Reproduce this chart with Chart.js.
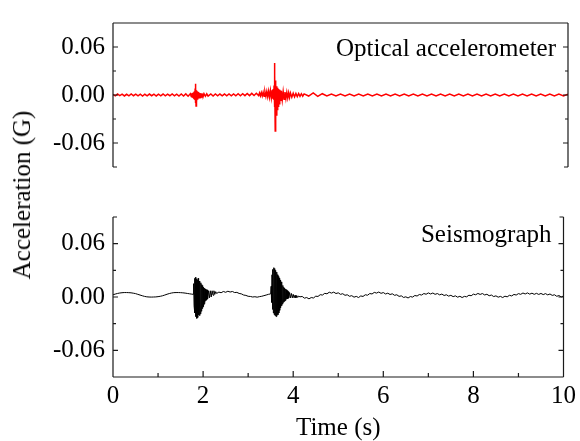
<!DOCTYPE html>
<html>
<head>
<meta charset="utf-8">
<script src="https://cdn.jsdelivr.net/npm/chart.js@4"></script>
<style>
  body { margin: 0; background: #fff; }
  #wrap { position: relative; width: 580px; height: 441px; }
  canvas { position: absolute; left: 0; }
  #ylabel {
    position: absolute; left: 22px; top: 195px;
    transform: translate(-50%, -50%) rotate(-90deg);
    font: 25px "Liberation Serif", serif; white-space: nowrap; color: #000;
  }
</style>
</head>
<body>
<div id="wrap">
  <canvas id="topChart" width="580" height="190" style="top:0"></canvas>
  <canvas id="bottomChart" width="580" height="251" style="top:190px"></canvas>
  <div id="ylabel">Acceleration (G)</div>
</div>
<script>
// tick positions
const xMajorTicks = [0, 2, 4, 6, 8, 10];
const xMinorTicks = [1, 3, 5, 7, 9];
const yMajorTicks = [-0.06, 0, 0.06];
const yMinorTicks = [-0.03, 0.03];

// optical accelerometer trace (s, G)
const opticalTime = [
  0,0.05,0.1,0.15,0.2,0.25,0.3,0.35,0.4,0.45,
  0.5,0.55,0.6,0.65,0.7,0.75,0.8,0.85,0.9,0.95,
  1,1.05,1.1,1.15,1.2,1.25,1.3,1.35,1.4,1.45,
  1.5,1.55,1.6,1.65,1.7,
  1.72,1.73,1.74,1.75,1.76,1.77,1.78,1.79,1.8,1.805,
  1.81,1.815,1.82,1.825,1.83,1.84,1.85,1.86,1.87,1.88,
  1.89,1.9,1.91,1.92,1.93,1.94,1.95,1.96,1.97,1.98,
  2,2.03,2.06,2.09,
  2.15,2.2,2.25,2.3,2.35,2.4,2.45,2.5,2.55,2.6,
  2.65,2.7,2.75,2.8,2.85,2.9,2.95,3,3.05,3.1,
  3.15,
  3.2,3.22,3.24,3.26,3.28,3.3,3.32,3.34,3.36,3.38,
  3.4,3.42,3.44,3.46,3.48,3.5,
  3.51,3.52,3.53,3.54,3.545,3.55,3.555,3.56,3.565,3.57,
  3.575,3.58,3.59,3.6,3.61,3.62,3.63,3.64,3.65,3.66,
  3.67,3.68,3.69,3.7,3.72,3.74,3.76,3.78,3.8,3.82,
  3.84,3.86,3.88,3.9,3.93,3.96,3.99,4.02,4.05,4.08,
  4.11,4.14,4.17,
  4.2,4.3,4.4,4.5,4.6,4.7,4.8,4.9,5,5.1,
  5.2,5.3,5.4,5.5,5.6,5.7,5.8,5.9,6,6.1,
  6.2,6.3,6.4,6.5,6.6,6.7,6.8,6.9,7,7.1,
  7.2,7.3,7.4,7.5,7.6,7.7,7.8,7.9,8,8.1,
  8.2,8.3,8.4,8.5,8.6,8.7,8.8,8.9,9,9.1,
  9.2,9.3,9.4,9.5,9.6,9.7,9.8,9.9,10
];
const opticalAccel = [
  0.0008,-0.0010,0.0012,-0.0008,0.0010,-0.0012,0.0009,-0.0010,0.0013,-0.0009,
  0.0011,-0.0011,0.0010,-0.0013,0.0009,-0.0010,0.0012,-0.0009,0.0011,-0.0012,
  0.0010,-0.0010,0.0012,-0.0011,0.0010,-0.0009,0.0013,-0.0011,0.0011,-0.0012,
  0.0012,-0.0013,0.0014,-0.0015,0.0016,
  -0.0020,0.0022,-0.0025,0.0028,-0.0030,0.0035,-0.0040,0.0045,-0.0060,0.0080,
  0.0140,-0.0100,0.0090,-0.0136,0.0060,-0.0090,0.0045,-0.0060,0.0035,-0.0045,
  0.0030,-0.0035,0.0025,-0.0030,0.0022,-0.0025,0.0020,-0.0022,0.0018,-0.0020,
  0.0016,-0.0016,0.0015,-0.0015,
  0.0013,-0.0012,0.0012,-0.0011,0.0012,-0.0010,0.0012,-0.0011,0.0013,-0.0010,
  0.0014,-0.0009,0.0015,-0.0009,0.0016,-0.0008,0.0018,-0.0008,0.0020,-0.0007,
  0.0022,
  -0.0008,0.0026,-0.0010,0.0030,-0.0012,0.0034,-0.0015,0.0038,-0.0018,0.0043,
  -0.0022,0.0048,-0.0028,0.0055,-0.0035,0.0062,
  -0.0045,0.0075,-0.0060,0.0120,-0.0080,0.0400,-0.0150,0.0250,-0.0450,0.0180,
  -0.0380,0.0140,-0.0250,0.0110,-0.0180,0.0090,-0.0140,0.0075,-0.0110,0.0065,
  -0.0090,0.0055,-0.0075,0.0048,-0.0062,0.0042,-0.0052,0.0036,-0.0044,0.0032,
  -0.0038,0.0028,-0.0032,0.0025,-0.0027,0.0022,-0.0023,0.0020,-0.0020,0.0018,
  -0.0017,0.0016,-0.0015,
  0.0014,-0.0013,0.0025,-0.0018,0.0016,-0.0012,0.0013,-0.0012,0.0012,-0.0011,
  0.0012,-0.0012,0.0011,-0.0012,0.0013,-0.0011,0.0012,-0.0012,0.0011,-0.0012,
  0.0012,-0.0011,0.0013,-0.0012,0.0011,-0.0012,0.0012,-0.0011,0.0012,-0.0013,
  0.0012,-0.0011,0.0012,-0.0012,0.0013,-0.0011,0.0012,-0.0012,0.0011,-0.0012,
  0.0012,-0.0011,0.0013,-0.0012,0.0011,-0.0012,0.0012,-0.0011,0.0012,-0.0012,
  0.0013,-0.0011,0.0012,-0.0012,0.0011,-0.0012,0.0012,-0.0011,0.0010
];

// seismograph trace (s, G)
const seismoTime = [
  0,0.05,0.1,0.15,0.2,0.25,0.3,0.35,0.4,0.45,
  0.5,0.55,0.6,0.65,0.7,0.75,0.8,0.85,0.9,0.95,
  1,1.05,1.1,1.15,1.2,1.25,1.3,1.35,1.4,1.45,
  1.5,1.55,1.6,1.65,1.7,1.75,
  1.78,1.79,1.8,1.81,1.82,1.83,1.84,1.85,1.86,1.87,
  1.88,1.89,1.9,1.91,1.92,1.93,1.94,1.95,1.96,1.97,
  1.98,1.99,2,2.01,2.02,2.03,2.04,2.05,2.06,2.07,
  2.08,2.09,2.1,2.12,2.14,2.16,2.18,2.2,2.22,2.24,
  2.26,2.28,2.3,
  2.35,2.4,2.45,2.5,2.55,2.6,2.65,2.7,2.75,2.8,
  2.85,2.9,2.95,3,3.05,3.1,3.15,3.2,3.25,3.3,
  3.35,3.4,3.45,
  3.5,3.51,3.52,3.53,3.54,3.55,3.56,3.57,3.58,3.59,
  3.6,3.61,3.62,3.63,3.64,3.65,3.66,3.67,3.68,3.69,
  3.7,3.71,3.72,3.73,3.74,3.75,3.76,3.77,3.78,3.79,
  3.8,3.81,3.82,3.83,3.84,3.85,3.86,3.87,3.88,3.89,
  3.9,3.92,3.94,3.96,3.98,4,4.02,4.04,4.06,4.08,
  4.1,4.12,4.15,
  4.2,4.25,4.3,4.35,4.4,4.45,4.5,4.55,4.6,4.65,
  4.7,4.75,4.8,4.85,4.9,4.95,5,5.05,5.1,5.15,
  5.2,5.25,5.3,5.35,5.4,5.45,5.5,5.55,5.6,5.65,
  5.7,5.75,5.8,5.85,5.9,5.95,6,6.05,6.1,6.15,
  6.2,6.25,6.3,6.35,6.4,6.45,6.5,6.55,6.6,6.65,
  6.7,6.75,6.8,6.85,6.9,6.95,7,7.05,7.1,7.15,
  7.2,7.25,7.3,7.35,7.4,7.45,7.5,7.55,7.6,7.65,
  7.7,7.75,7.8,7.85,7.9,7.95,8,8.05,8.1,8.15,
  8.2,8.25,8.3,8.35,8.4,8.45,8.5,8.55,8.6,8.65,
  8.7,8.75,8.8,8.85,8.9,8.95,9,9.05,9.1,9.15,
  9.2,9.25,9.3,9.35,9.4,9.45,9.5,9.55,9.6,9.65,
  9.7,9.75,9.8,9.85,9.9,9.95,10
];
const seismoAccel = [
  0.0025,0.0033,0.0040,0.0045,0.0048,0.0050,0.0050,0.0049,0.0047,0.0043,
  0.0038,0.0030,0.0022,0.0014,0.0007,0.0002,0.0000,-0.0001,0.0000,0.0001,
  0.0004,0.0008,0.0014,0.0022,0.0031,0.0039,0.0045,0.0049,0.0050,0.0050,
  0.0049,0.0047,0.0044,0.0040,0.0036,0.0032,
  0.0030,0.0150,-0.0100,0.0210,-0.0180,0.0220,-0.0220,0.0200,-0.0240,0.0190,
  -0.0230,0.0210,-0.0200,0.0180,-0.0210,0.0170,-0.0190,0.0160,-0.0160,0.0140,
  -0.0130,0.0130,-0.0110,0.0110,-0.0080,0.0100,-0.0060,0.0090,-0.0040,0.0080,
  -0.0030,0.0080,-0.0020,0.0070,-0.0010,0.0070,0.0000,0.0070,0.0020,0.0070,
  0.0030,0.0060,0.0040,
  0.0055,0.0048,0.0062,0.0053,0.0065,0.0056,0.0062,0.0050,0.0052,0.0040,
  0.0035,0.0022,0.0018,0.0008,0.0006,0.0000,0.0003,-0.0002,0.0004,0.0008,
  0.0015,0.0022,0.0030,
  0.0035,0.0120,-0.0060,0.0250,-0.0140,0.0310,-0.0180,0.0330,-0.0200,0.0320,
  -0.0210,0.0300,-0.0220,0.0280,-0.0210,0.0250,-0.0200,0.0230,-0.0180,0.0210,
  -0.0150,0.0190,-0.0120,0.0170,-0.0100,0.0150,-0.0080,0.0130,-0.0060,0.0110,
  -0.0050,0.0100,-0.0040,0.0090,-0.0030,0.0080,-0.0020,0.0070,-0.0020,0.0060,
  -0.0010,0.0050,-0.0010,0.0040,-0.0010,0.0030,-0.0010,0.0020,-0.0010,0.0015,
  -0.0005,0.0010,0.0002,
  0.0006,-0.0013,-0.0006,-0.0021,-0.0006,-0.0011,0.0009,0.0006,0.0026,0.0022,
  0.0041,0.0036,0.0054,0.0044,0.0055,0.0039,0.0047,0.0030,0.0037,0.0019,
  0.0025,0.0008,0.0015,-0.0002,0.0007,-0.0006,0.0012,0.0006,0.0025,0.0020,
  0.0039,0.0034,0.0052,0.0044,0.0056,0.0041,0.0050,0.0034,0.0043,0.0028,
  0.0036,0.0019,0.0025,0.0007,0.0013,-0.0005,0.0002,-0.0011,0.0005,-0.0001,
  0.0017,0.0011,0.0028,0.0022,0.0039,0.0031,0.0046,0.0034,0.0045,0.0030,
  0.0039,0.0024,0.0033,0.0017,0.0025,0.0010,0.0019,0.0004,0.0013,-0.0002,
  0.0008,-0.0006,0.0007,0.0002,0.0020,0.0014,0.0032,0.0025,0.0040,0.0029,
  0.0039,0.0023,0.0031,0.0014,0.0022,0.0005,0.0013,-0.0002,0.0007,-0.0006,
  0.0009,0.0002,0.0019,0.0012,0.0029,0.0022,0.0038,0.0030,0.0045,0.0034,
  0.0046,0.0032,0.0043,0.0030,0.0041,0.0029,0.0040,0.0027,0.0038,0.0024,
  0.0034,0.0018,0.0025,0.0008,0.0016,0.0001,0.0011
];

const FONT = { family: '"Liberation Serif", "Times New Roman", serif', size: 25 };

// draws the box sides, inward ticks and the panel caption
const framePlugin = {
  id: 'frame',
  afterDatasetsDraw(chart, args, opts) {
    const { ctx, chartArea: a, scales } = chart;
    const xs = scales.x, ys = scales.y;
    const closedY = opts.edge === 'top' ? a.top : a.bottom;
    const openY = opts.edge === 'top' ? a.bottom : a.top;
    const dir = opts.edge === 'top' ? 1 : -1;
    ctx.save();
    ctx.strokeStyle = '#1a1a1a';
    ctx.lineWidth = 1.2;
    ctx.beginPath();
    ctx.moveTo(a.left, a.top); ctx.lineTo(a.left, a.bottom);
    ctx.moveTo(a.right, a.top); ctx.lineTo(a.right, a.bottom);
    ctx.moveTo(a.left, closedY); ctx.lineTo(a.right, closedY);
    ctx.moveTo(a.left, openY); ctx.lineTo(a.left + 4, openY);
    ctx.moveTo(a.right, openY); ctx.lineTo(a.right - 4, openY);
    yMajorTicks.forEach(v => {
      const p = ys.getPixelForValue(v);
      ctx.moveTo(a.left, p); ctx.lineTo(a.left + 5, p);
      ctx.moveTo(a.right, p); ctx.lineTo(a.right - 5, p);
    });
    yMinorTicks.forEach(v => {
      const p = ys.getPixelForValue(v);
      ctx.moveTo(a.left, p); ctx.lineTo(a.left + 3, p);
      ctx.moveTo(a.right, p); ctx.lineTo(a.right - 3, p);
    });
    if (opts.xTicks) {
      xMajorTicks.forEach(v => {
        const p = xs.getPixelForValue(v);
        ctx.moveTo(p, closedY); ctx.lineTo(p, closedY + dir * 6);
      });
      xMinorTicks.forEach(v => {
        const p = xs.getPixelForValue(v);
        ctx.moveTo(p, closedY); ctx.lineTo(p, closedY + dir * 4);
      });
    }
    ctx.stroke();
    ctx.fillStyle = '#000';
    ctx.font = FONT.size + 'px ' + FONT.family;
    ctx.textAlign = 'right';
    ctx.textBaseline = 'alphabetic';
    ctx.fillText(opts.label, a.right - 12, a.top + opts.labelDy);
    ctx.restore();
  }
};

function makeChart(id, times, values, color, lineWidth, showX, padding, frame) {
  return new Chart(document.getElementById(id), {
    type: 'line',
    data: {
      datasets: [{
        data: times.map((t, i) => ({ x: t, y: values[i] })),
        borderColor: color,
        borderWidth: lineWidth,
        pointRadius: 0,
        tension: 0
      }]
    },
    options: {
      responsive: false,
      animation: false,
      events: [],
      layout: { padding: padding, autoPadding: false },
      plugins: { legend: { display: false }, tooltip: { enabled: false }, frame: frame },
      scales: {
        x: {
          type: 'linear', min: 0, max: 10,
          display: showX,
          afterBuildTicks: s => { s.ticks = xMajorTicks.map(v => ({ value: v })); },
          afterFit: s => { if (showX) s.height = 64; },
          grid: { display: false, drawTicks: false },
          border: { display: false },
          ticks: { color: '#000', font: FONT, padding: 4, maxRotation: 0 },
          title: { display: true, text: 'Time (s)', color: '#000', font: { ...FONT, lineHeight: 1 }, padding: 0 }
        },
        y: {
          min: -0.09, max: 0.09,
          afterBuildTicks: s => { s.ticks = yMajorTicks.map(v => ({ value: v })); },
          afterFit: s => { s.width = 113; },
          grid: { display: false, drawTicks: false },
          border: { display: false },
          ticks: { color: '#000', font: FONT, padding: 8, callback: v => v.toFixed(2) }
        }
      }
    },
    plugins: [framePlugin]
  });
}

makeChart('topChart', opticalTime, opticalAccel, '#ff0000', 1.5, false,
  { top: 15, right: 12, bottom: 16, left: 0 },
  { edge: 'top', xTicks: false, label: 'Optical accelerometer', labelDy: 33 });
makeChart('bottomChart', seismoTime, seismoAccel, '#000000', 1, true,
  { top: 27, right: 12, bottom: 0, left: 0 },
  { edge: 'bottom', xTicks: true, label: 'Seismograph', labelDy: 24.5 });
</script>
</body>
</html>
